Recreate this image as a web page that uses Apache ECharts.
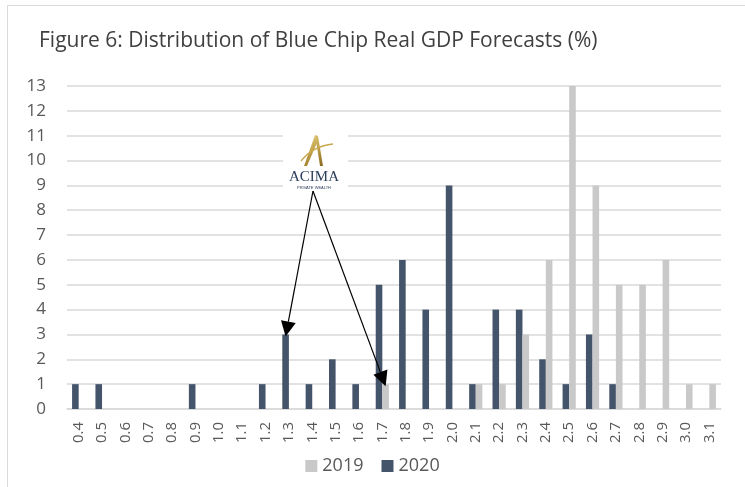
<!DOCTYPE html>
<html><head><meta charset="utf-8">
<script src="https://cdn.jsdelivr.net/npm/echarts@6/dist/echarts.min.js"></script>
<style>html,body{margin:0;padding:0;background:#fff}#c{width:745px;height:487px}</style>
</head><body><div id="c"></div>
<script>
const categories = ['0.4','0.5','0.6','0.7','0.8','0.9','1.0','1.1','1.2','1.3','1.4','1.5','1.6','1.7','1.8','1.9','2.0','2.1','2.2','2.3','2.4','2.5','2.6','2.7','2.8','2.9','3.0','3.1'];
const values2020 = [1,1,0,0,0,1,0,0,1,3,1,2,1,5,6,4,9,1,4,4,2,1,3,1,0,0,0,0];
const values2019 = [0,0,0,0,0,0,0,0,0,0,0,0,0,1,0,0,0,1,1,3,6,13,9,5,5,6,1,1];
const yTicks = {min:0, max:13, interval:1};
const arrowTargets = [{series:'2020', cat:'1.3', value:3}, {series:'2019', cat:'1.7', value:1}];

const chart = echarts.init(document.getElementById('c'), null, {renderer:'canvas'});
const FONT = 'Open Sans';
const option = {
  animation:false,
  backgroundColor:'#fff',
  title:{text:'Figure 6: Distribution of Blue Chip Real GDP Forecasts (%)', left:34, top:26,
    textStyle:{fontFamily:FONT, fontSize:21, fontWeight:'normal', color:'#404040'}},
  grid:{left:67, right:24, top:86, bottom:78, containLabel:false},
  legend:{data:['2019','2020'], bottom:7, left:'center', icon:'rect', itemWidth:12, itemHeight:12, itemGap:18,
    textStyle:{fontFamily:FONT, fontSize:18, color:'#595959'}},
  xAxis:{type:'category', data:categories,
    axisLine:{lineStyle:{color:'#d9d9d9', width:1.5}}, axisTick:{show:false},
    axisLabel:{rotate:90, interval:0, fontFamily:FONT, fontSize:15, color:'#595959', margin:13}},
  yAxis:{type:'value', min:yTicks.min, max:yTicks.max, interval:yTicks.interval,
    axisLine:{show:false}, axisTick:{show:false},
    axisLabel:{fontFamily:FONT, fontSize:17, color:'#595959', margin:21},
    splitLine:{lineStyle:{color:'#d9d9d9', width:1.5}}},
  series:[
    {name:'2020', type:'bar', data:values2020, barWidth:6.6, barGap:'0%', itemStyle:{color:'#44546a'}},
    {name:'2019', type:'bar', data:values2019, barWidth:6.6, barGap:'0%', itemStyle:{color:'#c9c9c9'}}
  ]
};
chart.setOption(option);

function arrowEnd(t){
  const p = chart.convertToPixel({xAxisIndex:0, yAxisIndex:0}, [t.cat, t.value]);
  const off = t.series === '2020' ? -3.3 : 3.3;
  return [p[0] + off, p[1] + 2];
}
function arrowGraphic(from, to){
  const dx = to[0]-from[0], dy = to[1]-from[1];
  const len = Math.sqrt(dx*dx+dy*dy), ux = dx/len, uy = dy/len;
  const hl = 15, hw = 7.5;
  const bx = to[0]-ux*hl, by = to[1]-uy*hl;
  return [
    {type:'line', shape:{x1:from[0], y1:from[1], x2:bx, y2:by}, style:{stroke:'#000', lineWidth:1.2}, z:100},
    {type:'polygon', shape:{points:[[to[0],to[1]],[bx-uy*hw, by+ux*hw],[bx+uy*hw, by-ux*hw]]}, style:{fill:'#000'}, z:100}
  ];
}
const logoX = 314;
const start = [logoX-1, 191];
const gold = new echarts.graphic.LinearGradient(0,0,1,1,[{offset:0,color:'#ead48a'},{offset:0.5,color:'#c0a048'},{offset:1,color:'#8a6a22'}]);
let els = [
  {type:'rect', shape:{x:7.5, y:5.5, width:760, height:500}, style:{fill:'none', stroke:'#d9d9d9', lineWidth:1}, z:0, silent:true},
  {type:'rect', shape:{x:283, y:131, width:65, height:63}, style:{fill:'#fff'}, z:90},
  {type:'polygon', shape:{points:[[315,135],[318,136],[323,166],[320,166],[316.5,144],[307,166],[304,166]]}, style:{fill:gold}, z:95},
  {type:'bezierCurve', shape:{x1:301, y1:161, x2:333, y2:144, cpx1:310, cpy1:150, cpx2:322, cpy2:145}, style:{stroke:'#c9a84c', lineWidth:1.3, fill:'none'}, z:96},
  {type:'text', x:logoX, y:170, style:{text:'ACIMA', fontFamily:'Liberation Serif', fontSize:15, align:'center', fill:'#2c3e5c'}, z:95},
  {type:'text', x:logoX, y:186, style:{text:'PRIVATE WEALTH', fontFamily:'Liberation Sans', fontSize:4, align:'center', fill:'#2c3e5c'}, z:95}
];
arrowTargets.forEach(t => { els = els.concat(arrowGraphic(start, arrowEnd(t))); });
chart.setOption({graphic:{elements:els}});
</script></body></html>
